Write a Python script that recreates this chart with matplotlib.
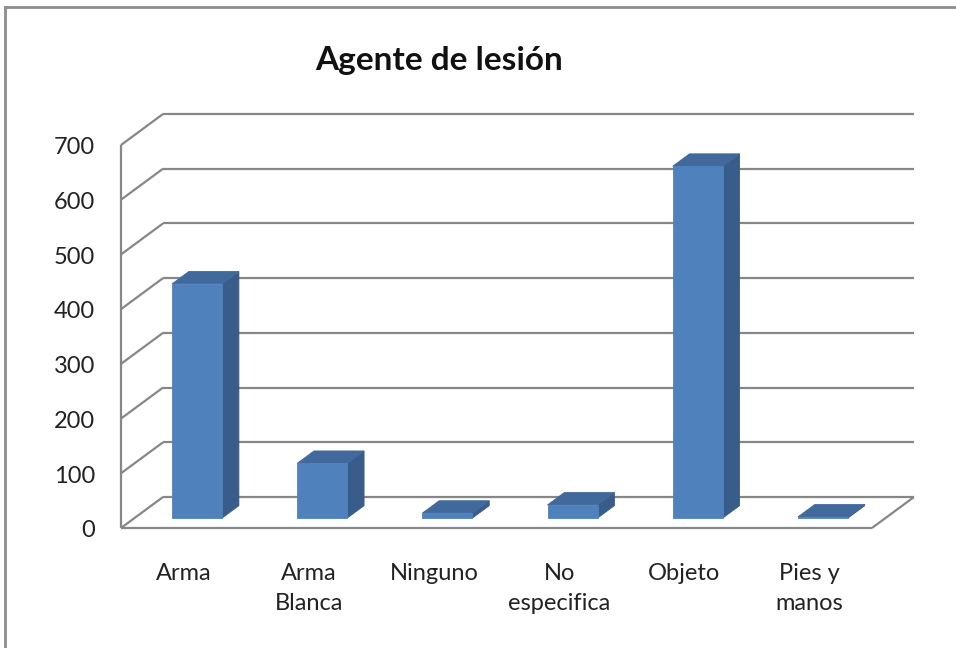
import matplotlib.pyplot as plt
from matplotlib.patches import Polygon
from matplotlib.lines import Line2D

# Datos
categorias = ["Arma", "Arma\nBlanca", "Ninguno", "No\nespecifica", "Objeto", "Pies y\nmanos"]
valores = [428, 100, 9, 24, 643, 2]
ticks = [0, 100, 200, 300, 400, 500, 600, 700]

plt.rcParams['font.family'] = ['Lato', 'DejaVu Sans']

# Profundidad del "3D" (en unidades de datos) y geometria de las barras
DX, DY = 0.336, 56.7
ANCHO = 0.4
F0, F1 = 0.32, 0.72      # fracciones de profundidad: cara frontal y trasera

C_FRENTE = '#4F81BD'
C_LADO = '#385D8A'
C_TAPA = '#41699B'
C_GRID = '#878787'

fig = plt.figure(figsize=(9.56, 6.48), dpi=100)
ax = fig.add_axes([121 / 956, 120 / 648, 751 / 956, 383 / 648])
ax.set_xlim(0, len(categorias))
ax.set_ylim(0, 700)
ax.axis('off')

n = len(categorias)

def linea(xs, ys):
    ax.plot(xs, ys, color=C_GRID, lw=1.6, clip_on=False, solid_capstyle='butt')

# Pared izquierda y pared del fondo
linea([0, 0], [0, ticks[-1]])
for t in ticks:
    linea([0, DX], [t, t + DY])
    linea([DX, n + DX], [t + DY, t + DY])

# Piso
linea([0, n], [0, 0])
linea([n, n + DX], [0, DY])

# Barras
for i, v in enumerate(valores):
    cx = i + 0.5
    x0 = cx - ANCHO / 2 + F0 * DX
    x1 = x0 + ANCHO
    y0 = F0 * DY
    ddx = (F1 - F0) * DX
    ddy = (F1 - F0) * DY
    frente = [(x0, y0), (x1, y0), (x1, y0 + v), (x0, y0 + v)]
    lado = [(x1, y0), (x1 + ddx, y0 + ddy), (x1 + ddx, y0 + ddy + v), (x1, y0 + v)]
    tapa = [(x0, y0 + v), (x1, y0 + v), (x1 + ddx, y0 + v + ddy), (x0 + ddx, y0 + v + ddy)]
    for pts, col in [(lado, C_LADO), (tapa, C_TAPA), (frente, C_FRENTE)]:
        ax.add_patch(Polygon(pts, closed=True, facecolor=col, edgecolor=col,
                             lw=0.6, clip_on=False, zorder=3))

# Etiquetas del eje Y
for t in ticks:
    ax.text(-0.208, t - 5, str(t), ha='right', va='center', fontsize=17,
            color='#222222', clip_on=False)

# Etiquetas de categorias
for i, c in enumerate(categorias):
    ax.text(i + 0.5, -64, c, ha='center', va='top', fontsize=17,
            color='#222222', linespacing=1.55, clip_on=False)

fig.text(0.459, 0.906, "Agente de lesión", ha='center', va='center',
         fontsize=24, fontweight='bold', color='#111111')

# Marco del grafico
fig.add_artist(Line2D([5 / 956, 5 / 956], [0, 1 - 7 / 648], color='#8C8C8C', lw=2))
fig.add_artist(Line2D([5 / 956, 1], [1 - 7 / 648, 1 - 7 / 648], color='#8C8C8C', lw=2))

fig.savefig('out.png', dpi=100, facecolor='white')
